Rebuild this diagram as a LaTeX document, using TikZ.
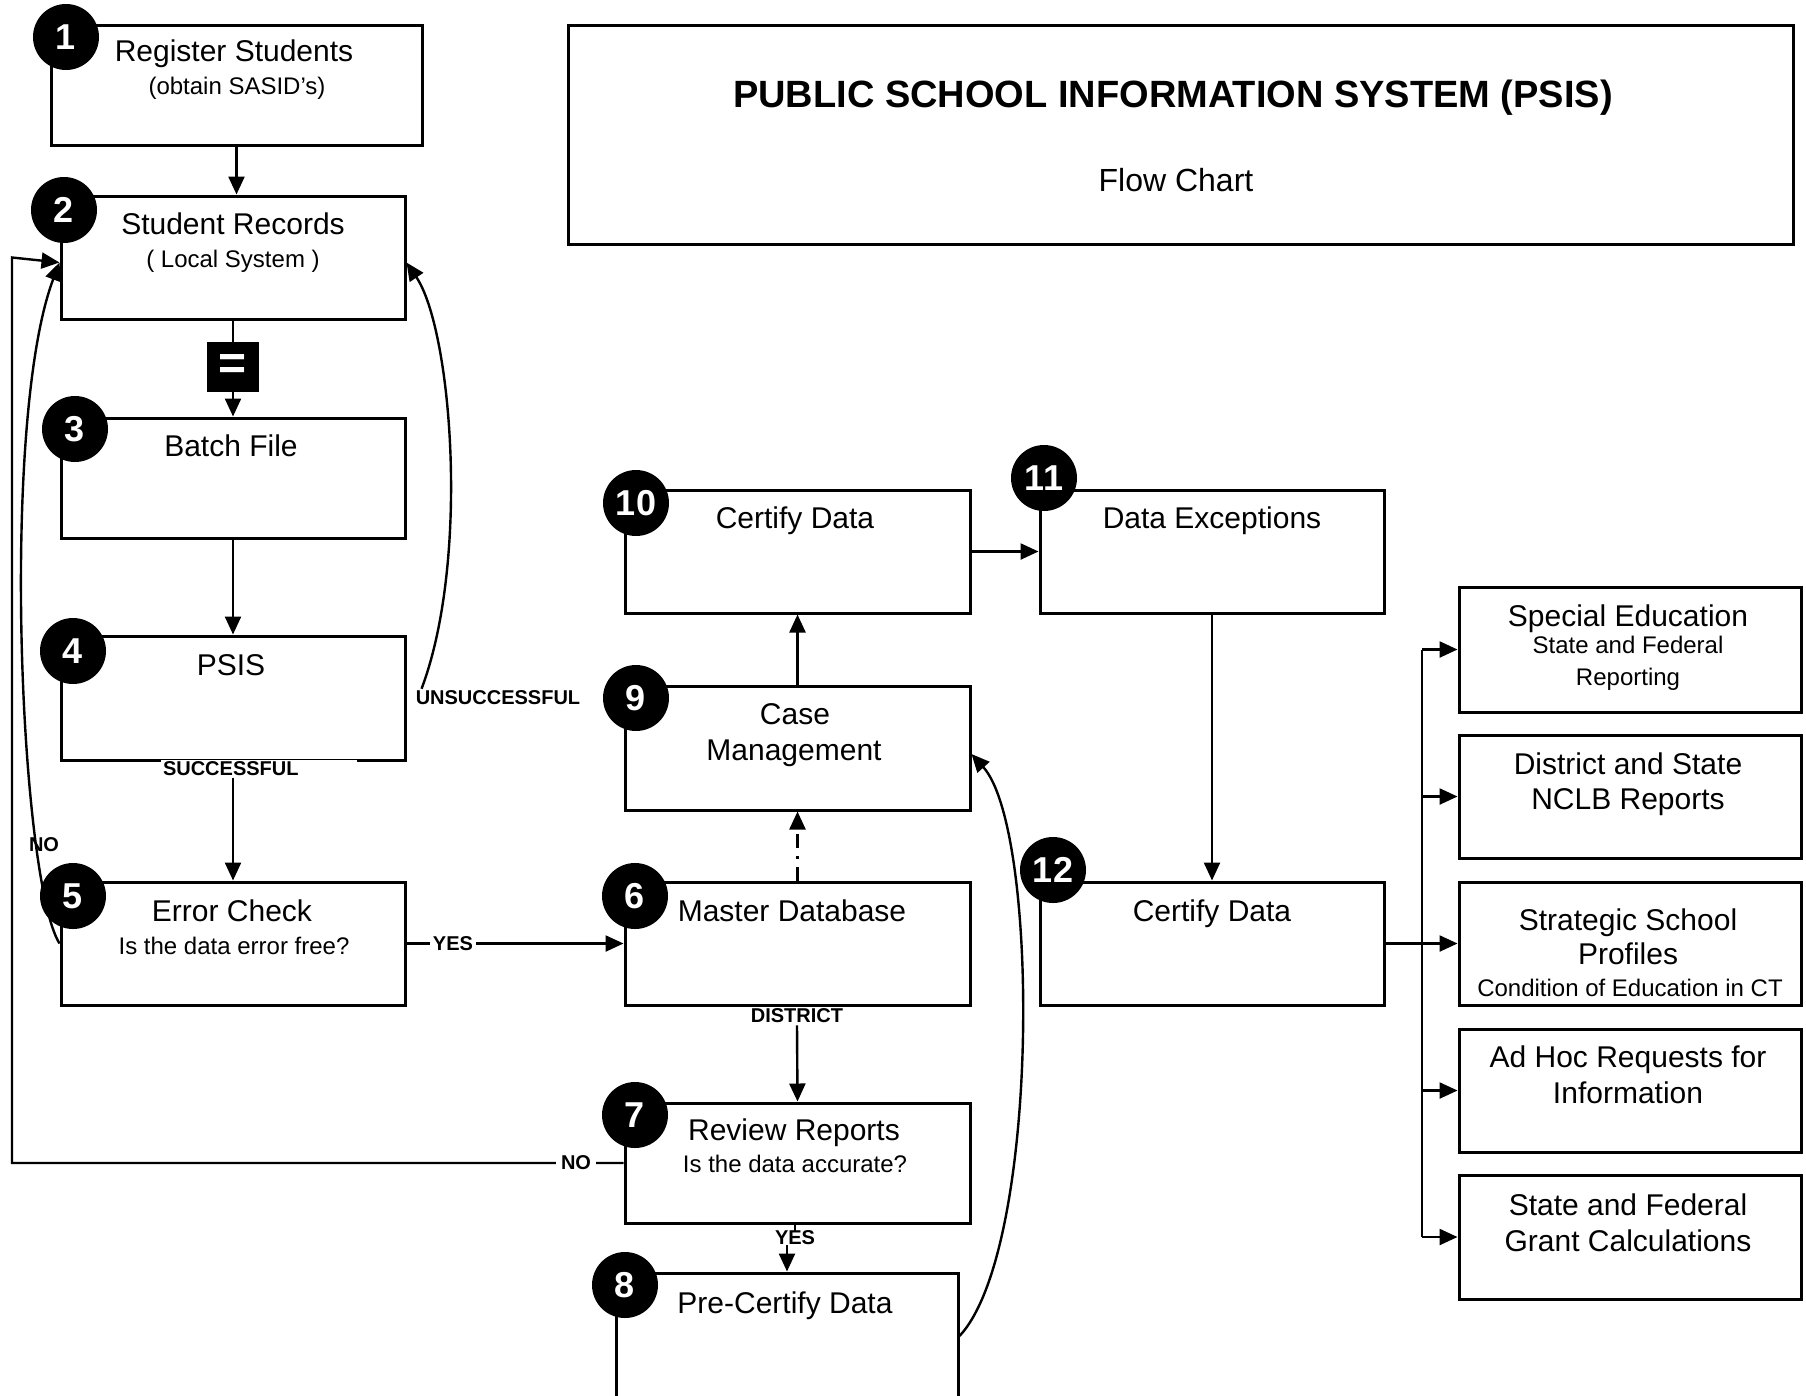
\documentclass[tikz,border=0pt]{standalone}
\usepackage{fontspec}
\setmainfont{Liberation Sans}
\usetikzlibrary{arrows.meta,calc}
\tikzset{
  box/.style={draw, line width=3pt, inner sep=0pt},
  conn/.style={line width=2.4pt},
  arr/.style={conn, -{Triangle[length=18pt,width=16pt]}},
  tx/.style={inner sep=0pt, yshift=-7pt, text height=0.72em, text depth=0.2em, font=\fontsize{30}{34}\selectfont},
  sm/.style={inner sep=0pt, yshift=-6pt, text height=0.72em, text depth=0.2em, font=\fontsize{24}{27}\selectfont},
  lbl/.style={inner sep=2pt, font=\bfseries\fontsize{20}{22}\selectfont},
  num/.style={circle, fill=black, minimum size=66pt, inner sep=0pt, text=white, font=\bfseries\fontsize{36}{36}\selectfont},
  eqbox/.style={fill=black, minimum width=52pt, minimum height=50pt, inner sep=0pt, text=white, font=\bfseries\fontsize{48}{48}\selectfont},
}
\begin{document}
\begin{tikzpicture}[x=1pt,y=-1pt]
\useasboundingbox (0,0) rectangle (1806,1395);
\clip (0,0) rectangle (1806,1395);

% title block
\node[box, minimum width=1225pt, minimum height=219pt] (title) at (1180.5,134.5) {};
\node[inner sep=0pt, yshift=-4pt, font=\bfseries\fontsize{38}{40}\selectfont] (tt) at (1173,94) {PUBLIC SCHOOL INFORMATION SYSTEM (PSIS)};
\node[tx, font=\fontsize{32}{34}\selectfont] (tf) at (1176,182) {Flow Chart};

% boxes
\node[box, minimum width=371pt, minimum height=120pt] (b1) at (236.5,85) {};
\node[box, minimum width=344pt, minimum height=123pt] (b2) at (233,257.5) {};
\node[box, minimum width=344pt, minimum height=120pt] (b3) at (233,478) {};
\node[box, minimum width=344pt, minimum height=124pt] (b4) at (233,698) {};
\node[box, minimum width=344pt, minimum height=123pt] (b5) at (233,943.5) {};
\node[box, minimum width=345pt, minimum height=123pt] (b6) at (797.5,943.5) {};
\node[box, minimum width=345pt, minimum height=120pt] (b7) at (797.5,1163) {};
\node[box, minimum width=342pt, minimum height=200pt] (b8) at (787,1373) {};
\node[box, minimum width=345pt, minimum height=124pt] (b9) at (797.5,748) {};
\node[box, minimum width=345pt, minimum height=123pt] (b10) at (797.5,551.5) {};
\node[box, minimum width=344pt, minimum height=123pt] (b11) at (1212,551.5) {};
\node[box, minimum width=344pt, minimum height=123pt] (b12) at (1212,943.5) {};
\node[box, minimum width=342pt, minimum height=125pt] (r1) at (1630,649.5) {};
\node[box, minimum width=342pt, minimum height=123pt] (r2) at (1630,796.5) {};
\node[box, minimum width=342pt, minimum height=123pt] (r3) at (1630,943.5) {};
\node[box, minimum width=342pt, minimum height=123pt] (r4) at (1630,1090.5) {};
\node[box, minimum width=342pt, minimum height=124pt] (r5) at (1630,1237) {};

% texts
\node[tx] (t1a) at (234,52) {Register Students};
\node[sm] (t1b) at (237,86) {(obtain SASID's)};
\node[tx] (t2a) at (233,225) {Student Records};
\node[sm] (t2b) at (233,259) {( Local System )};
\node[tx] (t3) at (231,447) {Batch File};
\node[tx] (t4) at (231,666) {PSIS};
\node[tx] (t5a) at (232,912) {Error Check};
\node[sm] (t5b) at (234,946) {Is the data error free?};
\node[tx] (t6) at (792,912) {Master Database};
\node[tx] (t7a) at (794,1131) {Review Reports};
\node[sm] (t7b) at (795,1164) {Is the data accurate?};
\node[tx] (t8) at (785,1304) {Pre-Certify Data};
\node[tx] (t9a) at (795,715) {Case};
\node[tx] (t9b) at (794,751) {Management};
\node[tx] (t10) at (795,519) {Certify Data};
\node[tx] (t11) at (1212,519) {Data Exceptions};
\node[tx] (t12) at (1212,912) {Certify Data};
\node[tx] (tr1a) at (1628,617) {Special Education};
\node[sm] (tr1b) at (1628,645) {State and Federal};
\node[sm] (tr1c) at (1628,677) {Reporting};
\node[tx] (tr2a) at (1628,765) {District and State};
\node[tx] (tr2b) at (1628,800) {NCLB Reports};
\node[tx] (tr3a) at (1628,921) {Strategic School};
\node[tx] (tr3b) at (1628,955) {Profiles};
\node[sm] (tr3c) at (1630,988) {Condition of Education in CT};
\node[tx] (tr4a) at (1628,1058) {Ad Hoc Requests for};
\node[tx] (tr4b) at (1628,1094) {Information};
\node[tx] (tr5a) at (1628,1206) {State and Federal};
\node[tx] (tr5b) at (1628,1242) {Grant Calculations};

% equals marker
\node[eqbox] (eq) at (233,367) {=};

% labels
\node[lbl, fill=white, text width=192pt, inner xsep=2pt, align=left] (succ) at (259,769) {SUCCESSFUL};
\node[lbl] (unsucc) at (498,698) {UNSUCCESSFUL};
\node[lbl, fill=white, inner xsep=25pt] (dist) at (797,1016) {DISTRICT};
\node[lbl, fill=white, inner sep=1pt] (no1) at (44,845) {NO};
\coordinate (lft) at (12,1163);
\coordinate (bx) at (1422,0);

% connectors
\draw[arr] (b1.south) -- (b1.south |- b2.north);
\draw[conn] (b2.south) -- (eq.north);
\draw[arr] (eq.south) -- (b3.north);
\draw[arr] (b3.south) -- (b4.north);
\draw[arr] (succ.south -| b5.north) -- (b5.north);
\draw[arr] ([xshift=8pt]unsucc.north west) .. controls (470,560) and (452,330) .. ([yshift=-5pt]b2.east);
\draw[arr] (b5.west) .. controls (20,880) and (0,420) .. ([yshift=-5pt]b2.west);
\draw[arr] (b7.west) -- (lft) -- (lft |- b2.west) -- ([yshift=-5pt]b2.west);
\draw[arr] (b5.east) -- (b6.west);
\draw[arr, dash pattern=on 14pt off 8pt on 3pt off 8pt] (b6.north) -- (b9.south);
\draw[arr] (dist.south) -- (b7.north);
\draw[arr] (b9.north) -- (b10.south);
\draw[arr] (b10.east) -- (b11.west);
\draw[arr] (b11.south) -- (b12.north);
\draw[arr] ([yshift=37pt]b8.east) .. controls (1040,1250) and (1040,830) .. ([yshift=-6pt]b9.east);
\node[lbl, fill=white, inner xsep=3pt, inner ysep=1pt] (yes1) at (453,944) {YES};
\node[lbl, fill=white, inner xsep=5pt, inner ysep=1pt] (no2) at (576,1163) {NO};
\node[lbl, inner sep=0pt] (yes2) at (795,1238) {YES};
\draw[conn] (b7.south -| yes2) -- (yes2.north);
\draw[arr] (yes2.south -| b8.north) -- (b8.north);
\draw[conn] (r1.west -| bx) -- (r5.west -| bx);
\draw[arr] (b12.east) -- (r3.west);
\foreach \r in {r1,r2,r4,r5} { \draw[arr] (\r.west -| bx) -- (\r.west); }

% numbers
\node[num] (n1) at (66,37) {1};
\node[num] (n2) at (64,210) {2};
\node[num] (n3) at (75,429) {3};
\node[num] (n4) at (73,651) {4};
\node[num] (n5) at (73,896) {5};
\node[num] (n6) at (635,896) {6};
\node[num] (n7) at (635,1115) {7};
\node[num] (n8) at (625,1285) {8};
\node[num] (n9) at (636,698) {9};
\node[num] (n10) at (636,503) {10};
\node[num] (n11) at (1044,478) {11};
\node[num] (n12) at (1053,870) {12};
\end{tikzpicture}
\end{document}
